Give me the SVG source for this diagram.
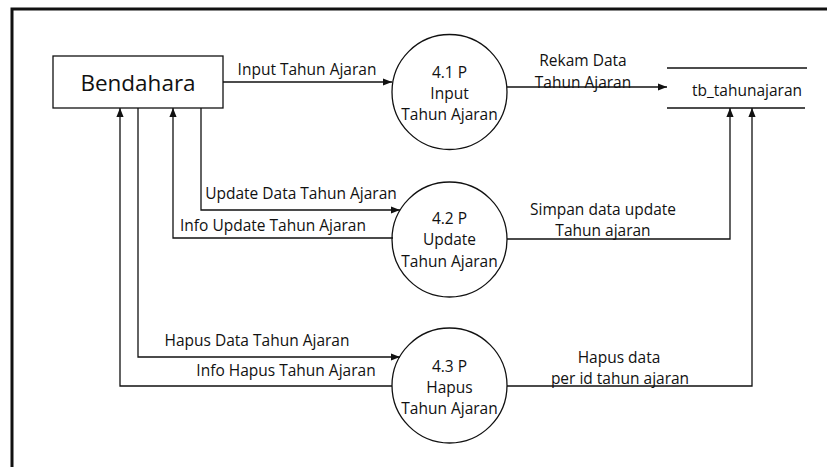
<svg xmlns="http://www.w3.org/2000/svg" width="827" height="467" viewBox="0 0 827 467">
<style>
text{font-family:"Open Sans","Liberation Sans",sans-serif;font-size:15.5px;fill:#111;text-anchor:middle;dominant-baseline:central}
.s{fill:none;stroke:#111;stroke-width:1.3}
.c{fill:none;stroke:#111;stroke-width:1.3;marker-end:url(#ah)}
</style>
<defs>
<marker id="ah" viewBox="0 0 10 10" refX="10" refY="5" markerWidth="9" markerHeight="9" markerUnits="userSpaceOnUse" orient="auto">
<path d="M0,1 L10,5 L0,9 Z" fill="#111"/>
</marker>
</defs>
<rect x="0" y="0" width="827" height="467" fill="#fff"/>
<rect x="12" y="9" width="900" height="600" fill="none" stroke="#111" stroke-width="3"/>
<g id="bendahara">
<rect x="53" y="56" width="170" height="52" fill="#fff" class="s"/>
<text x="138" y="82" style="font-size:22.5px">Bendahara</text>
</g>
<g id="p41">
<circle cx="449.5" cy="92" r="57.5" class="s"/>
<text x="449.5" y="72">4.1 P</text>
<text x="449.5" y="93">Input</text>
<text x="449.5" y="114">Tahun Ajaran</text>
</g>
<g id="p42">
<circle cx="449.5" cy="239.5" r="57.5" class="s"/>
<text x="449.5" y="218">4.2 P</text>
<text x="449.5" y="239">Update</text>
<text x="449.5" y="261">Tahun Ajaran</text>
</g>
<g id="p43">
<circle cx="449.5" cy="385.5" r="57.5" class="s"/>
<text x="449.5" y="366">4.3 P</text>
<text x="449.5" y="387">Hapus</text>
<text x="449.5" y="408">Tahun Ajaran</text>
</g>
<g id="store">
<line x1="667" y1="68" x2="807" y2="68" class="s"/>
<line x1="667" y1="108" x2="805" y2="108" class="s"/>
<text x="747" y="90">tb_tahunajaran</text>
</g>
<g id="connectors">
<path d="M223,82 H392" class="c"/>
<path d="M507,87 H667" class="c"/>
<path d="M201,108 V210 H400" class="c"/>
<path d="M393,238 H173 V108" class="c"/>
<path d="M138,108 V357 H400" class="c"/>
<path d="M392,386 H120 V108" class="c"/>
<path d="M507,239 H730 V108" class="c"/>
<path d="M507,386 H752 V108" class="c"/>
</g>
<g id="labels">
<text x="307" y="69">Input Tahun Ajaran</text>
<text x="583" y="60">Rekam Data</text>
<text x="583" y="82">Tahun Ajaran</text>
<text x="301" y="193">Update Data Tahun Ajaran</text>
<text x="273" y="225">Info Update Tahun Ajaran</text>
<text x="603" y="208.5">Simpan data update</text>
<text x="603" y="229.5">Tahun ajaran</text>
<text x="257" y="340">Hapus Data Tahun Ajaran</text>
<text x="286" y="370">Info Hapus Tahun Ajaran</text>
<text x="619" y="356.5">Hapus data</text>
<text x="620" y="378">per id tahun ajaran</text>
</g>
</svg>
